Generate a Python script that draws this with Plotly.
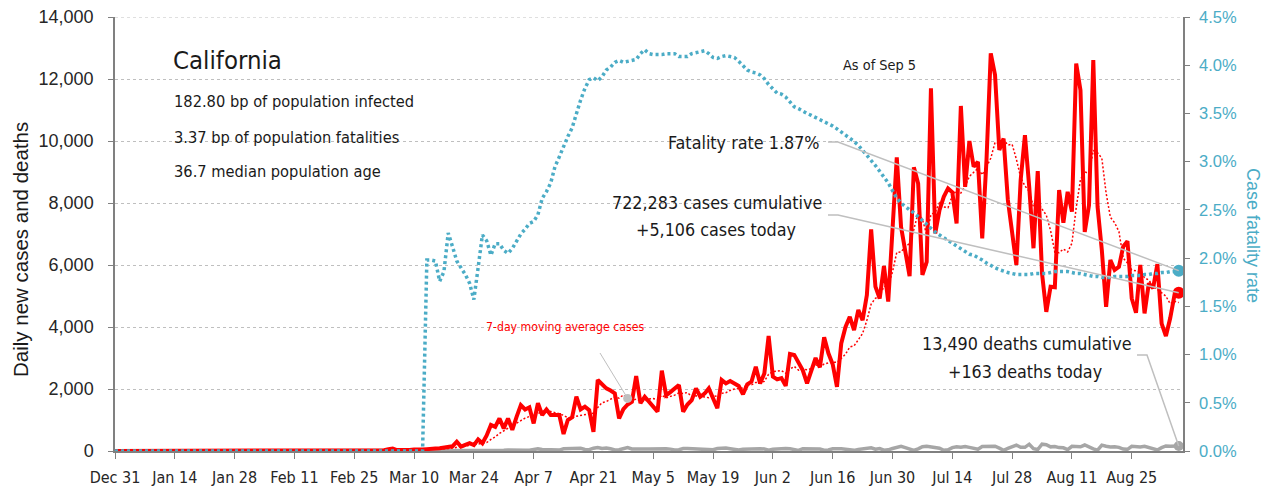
import pandas as pd
import plotly.graph_objects as go

# --- data (one value per day, Dec 31 2019 .. Sep 5 2020) ---
dates = pd.date_range("2019-12-31", "2020-09-05", freq="D")

# daily new cases
cases_to_feb = [0] * 56 + [5, 3, 10, 2, 8]
cases_mar = [20, 15, 25, 60, 80, 30, 25, 40, 30, 50, 40, 45, 60, 55, 80, 90,
             100, 120, 150, 300, 140, 200, 250, 190, 375, 250, 500, 840, 780, 1050, 730]
cases_apr = [1050, 680, 1100, 1480, 1340, 1410, 890, 1540, 1160, 1340, 1160, 1150,
             1160, 550, 1000, 1085, 1750, 1340, 1430, 1320, 620, 2290, 2150, 2020,
             1950, 1860, 1050, 1350, 1500, 1590]
cases_may = [2420, 1540, 1750, 1600, 1430, 1270, 2590, 1800, 1900, 2020, 2130, 1270,
             1500, 1640, 2020, 1750, 1850, 2020, 1700, 1380, 2290, 2180, 2260, 2180,
             2100, 1830, 2150, 2240, 2720, 2180, 2500]
cases_jun = [3710, 2400, 2310, 2350, 2100, 3130, 3100, 2880, 2600, 2180, 2600, 3000,
             2700, 3670, 3150, 2800, 2070, 3470, 4000, 4330, 3900, 4550, 4220, 5030,
             7150, 5300, 4920, 5970, 4820, 7230]
cases_jul = [9470, 7230, 6480, 5640, 9150, 8630, 5680, 6100, 11700, 7020, 7770, 8200,
             8470, 8350, 7340, 11130, 8520, 10000, 9170, 9330, 6860, 9380, 12830, 12130,
             9710, 10080, 8100, 7020, 6000, 8740, 10190]
cases_aug = [8520, 6540, 9030, 5730, 4490, 5300, 5280, 8420, 7360, 8360, 7720, 12500,
             11640, 7070, 7930, 12610, 7880, 6480, 4650, 6160, 5840, 5940, 6590, 6770,
             4920, 4460, 6000, 4440, 5410, 5250, 6030]
cases_sep = [4110, 3710, 4280, 5030, 5106]

# daily new deaths
deaths_to_feb = [0] * 61
deaths_mar = [0] * 11 + [1, 1, 2, 0, 1, 2, 3, 2, 4, 3, 5, 6, 8, 10, 13, 15, 17, 19, 26, 25]
deaths_apr = [30, 34, 41, 37, 27, 24, 50, 68, 52, 51, 39, 25, 30, 71, 69, 94, 86, 86,
              48, 43, 90, 113, 83, 96, 72, 34, 40, 66, 109, 66]
deaths_may = [74, 67, 66, 65, 70, 88, 70, 75, 61, 34, 40, 77, 80, 71, 68, 70, 67, 47,
              39, 81, 93, 93, 71, 50, 31, 59, 65, 79, 87, 74, 66]
deaths_jun = [27, 59, 71, 80, 79, 73, 46, 20, 76, 68, 62, 75, 65, 28, 31, 73, 82, 71,
              56, 48, 21, 51, 70, 100, 103, 56, 78, 26, 37, 80]
deaths_jul = [110, 149, 110, 69, 18, 72, 138, 149, 137, 100, 91, 25, 38, 110, 136, 120,
              146, 118, 81, 57, 145, 157, 159, 154, 93, 22, 81, 144, 190, 122, 118]
deaths_aug = [219, 74, 48, 219, 202, 134, 147, 109, 103, 44, 152, 129, 134, 193, 114,
              67, 27, 190, 154, 130, 140, 118, 64, 54, 153, 142, 128, 151, 118, 79, 34]
deaths_sep = [109, 162, 157, 146, 163]

# case fatality rate, %
cfr_to_feb = [0] * 61
cfr_mar = [0] * 12 + [1.98, 1.98, 1.97, 1.76, 1.86, 2.26, 2.12, 1.97, 1.90, 1.83, 1.74,
                      1.57, 1.90, 2.24, 2.18, 2.03, 2.15, 2.15, 2.08]
cfr_apr = [2.05, 2.10, 2.18, 2.25, 2.30, 2.36, 2.38, 2.45, 2.62, 2.69, 2.78, 2.95, 3.05,
           3.16, 3.26, 3.35, 3.50, 3.64, 3.76, 3.85, 3.87, 3.84, 3.88, 3.95, 3.98, 4.03,
           4.05, 4.03, 4.04, 4.05]
cfr_may = [4.06, 4.12, 4.16, 4.12, 4.11, 4.11, 4.11, 4.12, 4.12, 4.12, 4.09, 4.09, 4.09,
           4.12, 4.13, 4.14, 4.15, 4.12, 4.08, 4.07, 4.09, 4.10, 4.09, 4.08, 4.04, 4.00,
           3.95, 3.93, 3.92, 3.90, 3.86]
cfr_jun = [3.80, 3.75, 3.71, 3.70, 3.67, 3.62, 3.57, 3.55, 3.52, 3.50, 3.48, 3.46, 3.44,
           3.42, 3.40, 3.37, 3.34, 3.31, 3.28, 3.25, 3.21, 3.17, 3.12, 3.07, 3.02, 2.96,
           2.90, 2.84, 2.78, 2.70]
cfr_jul = [2.62, 2.57, 2.53, 2.50, 2.47, 2.43, 2.39, 2.34, 2.30, 2.27, 2.24, 2.21, 2.18,
           2.15, 2.12, 2.09, 2.06, 2.04, 2.03, 2.01, 1.98, 1.95, 1.92, 1.90, 1.88, 1.86,
           1.85, 1.84, 1.83, 1.83, 1.83]
cfr_aug = [1.83, 1.84, 1.84, 1.84, 1.84, 1.85, 1.86, 1.86, 1.86, 1.86, 1.85, 1.84, 1.84,
           1.83, 1.82, 1.81, 1.81, 1.80, 1.80, 1.80, 1.81, 1.81, 1.81, 1.81, 1.82, 1.82,
           1.82, 1.83, 1.83, 1.84, 1.84]
cfr_sep = [1.85, 1.85, 1.86, 1.86, 1.87]

cases = cases_to_feb + cases_mar + cases_apr + cases_may + cases_jun + cases_jul + cases_aug + cases_sep
deaths = deaths_to_feb + deaths_mar + deaths_apr + deaths_may + deaths_jun + deaths_jul + deaths_aug + deaths_sep
cfr = cfr_to_feb + cfr_mar + cfr_apr + cfr_may + cfr_jun + cfr_jul + cfr_aug + cfr_sep
assert len(cases) == len(deaths) == len(cfr) == len(dates)

df = pd.DataFrame({"date": dates, "cases": cases, "deaths": deaths, "cfr": cfr})
df["ma7"] = df["cases"].rolling(7, min_periods=1).mean()

RED = "#ff0000"
TEAL = "#4bacc6"
GREY = "#a6a6a6"
LEADER = "#bfbfbf"
INK = "#1a1a1a"
NARROW = "DejaVu Sans Condensed, Liberation Sans, sans-serif"
REGULAR = "Liberation Sans, Arial, sans-serif"
Y_MAX, Y2_MAX = 14000, 4.5

# plot area in page pixels: x 115..1183, y 17..451
# (the page body has an 8px margin, so the figure itself is 8px smaller/offset)
L, R, T, B = 115, 1183, 17, 451
PAGE_OFF = 8
FIG_W, FIG_H = 1271 - PAGE_OFF, 491 - PAGE_OFF


def pap(xp, yp):
    return (xp - L) / (R - L), (B - yp) / (B - T)


fig = go.Figure()

fig.add_trace(go.Scatter(x=df["date"], y=df["deaths"], mode="lines",
                         line=dict(color=GREY, width=3.5), hoverinfo="skip"))
fig.add_trace(go.Scatter(x=df["date"], y=df["cases"], mode="lines",
                         line=dict(color=RED, width=4), hoverinfo="skip"))
fig.add_trace(go.Scatter(x=df["date"], y=df["ma7"], mode="lines",
                         line=dict(color=RED, width=1.5, dash="2px,2px"), hoverinfo="skip"))
fig.add_trace(go.Scatter(x=df["date"], y=df["cfr"], mode="lines", yaxis="y2",
                         line=dict(color=TEAL, width=3.5, dash="3px,3px"), hoverinfo="skip"))

last = df.iloc[-1]
fig.add_trace(go.Scatter(x=[last["date"]], y=[last["cases"]], mode="markers",
                         marker=dict(color=RED, size=12), hoverinfo="skip"))
fig.add_trace(go.Scatter(x=[last["date"]], y=[last["deaths"]], mode="markers",
                         marker=dict(color=GREY, size=10), hoverinfo="skip"))
fig.add_trace(go.Scatter(x=[last["date"]], y=[last["cfr"]], mode="markers", yaxis="y2",
                         marker=dict(color=TEAL, size=12), hoverinfo="skip"))
ma_pt = df.iloc[120]
fig.add_trace(go.Scatter(x=[ma_pt["date"]], y=[ma_pt["ma7"]], mode="markers",
                         marker=dict(color=LEADER, size=9), hoverinfo="skip"))

# --- leader lines (paper coords = plot area) ---
x_end = (len(df) - 1) / len(df)


def leader(x0p, y0p, y_end, width=1.5):
    a = pap(x0p, y0p)
    b = pap(x0p + 10, y0p)
    return dict(type="path", xref="paper", yref="paper",
                path=f"M {a[0]},{a[1]} L {b[0]},{b[1]} L {x_end},{y_end}",
                line=dict(color=LEADER, width=width))


shapes = [
    leader(828, 142, last["cfr"] / Y2_MAX),
    leader(828, 215, last["cases"] / Y_MAX),
    leader(1137, 355, last["deaths"] / Y_MAX),
]
ma_x = (ma_pt["date"] - dates[0]).days / len(df)
m0 = pap(600, 353)
shapes.append(dict(type="line", xref="paper", yref="paper", x0=m0[0], y0=m0[1],
                   x1=ma_x, y1=ma_pt["ma7"] / Y_MAX, line=dict(color=LEADER, width=1)))
# plotly drops the gridline at the very top of the range; draw it
shapes.append(dict(type="line", xref="paper", yref="y", x0=0, x1=1, y0=Y_MAX, y1=Y_MAX,
                   line=dict(color="#bfbfbf", width=1, dash="dot"), layer="below"))


def note(text, xp, yp, size, xanchor="left", color=INK, font=NARROW, angle=0):
    xa, ya = pap(xp, yp)
    return dict(text=text, x=xa, y=ya, xref="paper", yref="paper", showarrow=False,
                xanchor=xanchor, yanchor="middle", textangle=angle,
                font=dict(family=font, size=size, color=color))


annotations = [
    note("California", 171, 60, 25.5),
    note("182.80 bp of population infected", 172, 101, 16.3),
    note("3.37 bp of population fatalities", 172, 137, 16.3),
    note("36.7 median population age", 172, 171, 16.3),
    note("As of Sep 5", 879, 65, 14.4, "center"),
    note("Fatality rate 1.87%", 822, 142, 17.8, "right"),
    note("722,283 cases cumulative", 716.5, 202, 17.8, "center"),
    note("+5,106 cases today", 716, 229, 17.8, "center"),
    note("13,490 deaths cumulative", 1026.5, 343, 17.8, "center"),
    note("+163 deaths today", 1025, 371, 17.8, "center"),
    note("7-day moving average cases", 564.5, 327, 12.2, "center", color=RED),
    note("Daily new cases and deaths", 20, 250, 20.5, "center", font=REGULAR, angle=-90),
    note("Case fatality rate", 1253, 235, 18, "center", color=TEAL, font=REGULAR, angle=90),
]

fig.update_layout(
    template="none",
    width=FIG_W, height=FIG_H,
    margin=dict(l=L - PAGE_OFF, r=1271 - R, t=T - PAGE_OFF, b=491 - B, autoexpand=False),
    paper_bgcolor="white", plot_bgcolor="white",
    showlegend=False, hovermode=False,
    shapes=shapes, annotations=annotations,
    xaxis=dict(type="date", range=["2019-12-31", "2020-09-06"],
               tick0="2019-12-31", dtick=14 * 86400000, tickformat="%b %-d",
               tickangle=0, automargin=False, ticklabeloverflow="allow",
               showgrid=False, zeroline=False, showline=True, linecolor="#808080",
               linewidth=1.5, ticks="outside", ticklen=6, tickcolor="#808080",
               ticklabelstandoff=5,
               tickfont=dict(family=NARROW, size=16, color="#262626")),
    yaxis=dict(range=[0, Y_MAX], dtick=2000, tickformat=",", showgrid=True,
               gridcolor="#bfbfbf", griddash="dot", gridwidth=1, zeroline=False,
               automargin=False, ticklabeloverflow="allow",
               showline=True, linecolor="#808080", linewidth=1.5, ticks="outside",
               ticklen=5, tickcolor="#808080", ticklabelstandoff=11,
               tickfont=dict(family=REGULAR, size=18, color="#262626")),
    yaxis2=dict(range=[0, Y2_MAX], dtick=0.5, tickformat=".1f", ticksuffix="%",
                overlaying="y", side="right", showgrid=False, zeroline=False,
                automargin=False, ticklabeloverflow="allow",
                showline=True, linecolor="#808080", linewidth=1.5, ticks="outside",
                ticklen=5, tickcolor="#808080", ticklabelstandoff=6,
                tickfont=dict(family=REGULAR, size=16.5, color=TEAL)),
)

fig.write_html("out.html")
